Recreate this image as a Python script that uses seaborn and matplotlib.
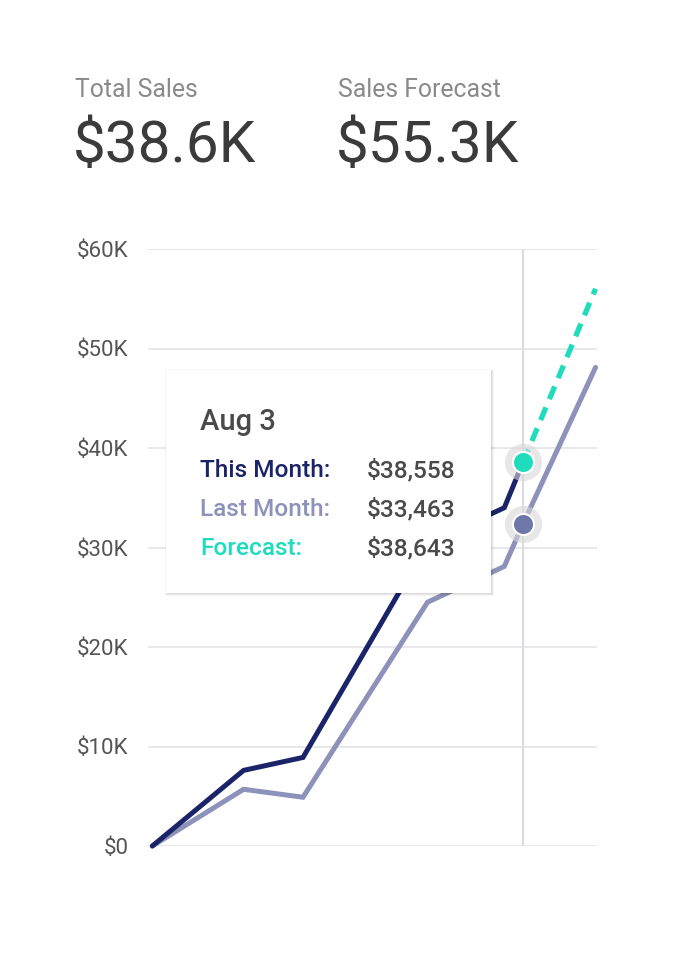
import matplotlib
matplotlib.use("Agg")
import matplotlib.pyplot as plt
import seaborn as sns
import pandas as pd
from matplotlib.patches import Rectangle
from matplotlib.ticker import FuncFormatter

# day-of-period positions and cumulative sales (thousands of $)
days = [0.3, 6.6, 10.7, 19.3, 24.6, 25.9, 30.9]
this_month = [0, 7.6, 8.9, 30.4, 34.0, 38.6]
last_month = [0, 5.7, 4.9, 24.5, 28.1, 32.4, 48.1]
forecast_days = [25.9, 30.9]
forecast = [38.6, 56.0]

y_ticks = [0, 10, 20, 30, 40, 50, 60]
header_labels = ["Total Sales", "Sales Forecast"]
header_values = ["$38.6K", "$55.3K"]
tip_title = "Aug 3"
tip_rows = ["This Month:", "Last Month:", "Forecast:"]
tip_values = ["$38,558", "$33,463", "$38,643"]

NAVY = "#1b2468"
LAVENDER = "#8c92b9"
TEAL = "#1fdcbc"
DOT_LAST = "#6f76a8"

sns.set_theme(style="white")
plt.rcParams["font.family"] = ["Roboto", "DejaVu Sans"]

W, H = 676, 956
fig = plt.figure(figsize=(W / 100, H / 100), dpi=100)
ax = fig.add_axes([148 / W, 1 - 846 / H, (597 - 148) / W, (846 - 249) / H])

df_this = pd.DataFrame({"day": days[:len(this_month)], "sales": this_month})
df_last = pd.DataFrame({"day": days, "sales": last_month})
df_fc = pd.DataFrame({"day": forecast_days, "sales": forecast})

for y in y_ticks:
    ax.axhline(y, color="#e5e5ea", lw=1.3, zorder=0)
ax.axvline(days[5], color="#dcdcdf", lw=1.5, zorder=0)

sns.lineplot(data=df_last, x="day", y="sales", ax=ax, color=LAVENDER, lw=3.6,
             solid_joinstyle="miter", zorder=2, clip_on=False)
sns.lineplot(data=df_this, x="day", y="sales", ax=ax, color=NAVY, lw=3.6,
             solid_joinstyle="miter", zorder=3, clip_on=False)
sns.lineplot(data=df_fc, x="day", y="sales", ax=ax, color=TEAL, lw=3.8,
             zorder=3, clip_on=False, dashes=False)
ax.lines[-1].set_dashes([2.6, 1.7])

# hover dots with halo
for yv, c in [(forecast[0], TEAL), (last_month[5], DOT_LAST)]:
    ax.scatter([days[5]], [yv], s=720, color="#d8d8da", alpha=0.6, lw=0, zorder=5, clip_on=False)
    ax.scatter([days[5]], [yv], s=230, color=c, edgecolor="white", lw=1.5, zorder=6, clip_on=False)

ax.set_xlim(0, 31)
ax.set_ylim(0, 60)
ax.set_yticks(y_ticks)
ax.yaxis.set_major_formatter(FuncFormatter(lambda v, p: "$0" if v == 0 else f"${int(v)}K"))
ax.set_xticks([])
ax.tick_params(axis="y", length=0, pad=14, labelsize=16, labelcolor="#555555")
ax.set_xlabel("")
ax.set_ylabel("")
sns.despine(ax=ax, left=True, bottom=True)

# header
for lbl, val, xp in zip(header_labels, header_values, [75, 338]):
    fig.text(xp / W, 1 - 97 / H, lbl, fontsize=17.8, color="#8a8a8a", va="baseline")
    fig.text(xp / W - 0.003, 1 - 162 / H, val, fontsize=42, color="#3b3b3b", va="baseline")

# tooltip box with soft shadow
bx0, by0, bx1, by1 = 166, 370, 491, 593
for i, a in enumerate([0.04, 0.05, 0.06]):
    off = 3 - i
    fig.patches.append(Rectangle(((bx0 - off + 2) / W, 1 - (by1 + off) / H),
                                 (bx1 - bx0 + 2 * off - 2) / W, (by1 - by0 + 2 * off - 2) / H,
                                 transform=fig.transFigure, facecolor="black", alpha=a,
                                 edgecolor="none", zorder=8))
fig.patches.append(Rectangle((bx0 / W, 1 - by1 / H), (bx1 - bx0) / W, (by1 - by0) / H,
                             transform=fig.transFigure, facecolor="white",
                             edgecolor="none", zorder=9))

fig.text(200 / W, 1 - 430 / H, tip_title, fontsize=21, color="#4a4a4a",
         weight="medium", va="baseline", zorder=10)
for lbl, val, c, yp in zip(tip_rows, tip_values, [NAVY, LAVENDER, TEAL], [477, 516, 555]):
    fig.text(200 / W, 1 - yp / H, lbl, fontsize=17.6, color=c, weight="medium",
             va="baseline", zorder=10)
    fig.text(455 / W, 1 - yp / H, val, fontsize=17.6, color="#4a4a4a", weight="medium",
             va="baseline", ha="right", zorder=10)

fig.savefig("out.png", dpi=100, facecolor="white")
